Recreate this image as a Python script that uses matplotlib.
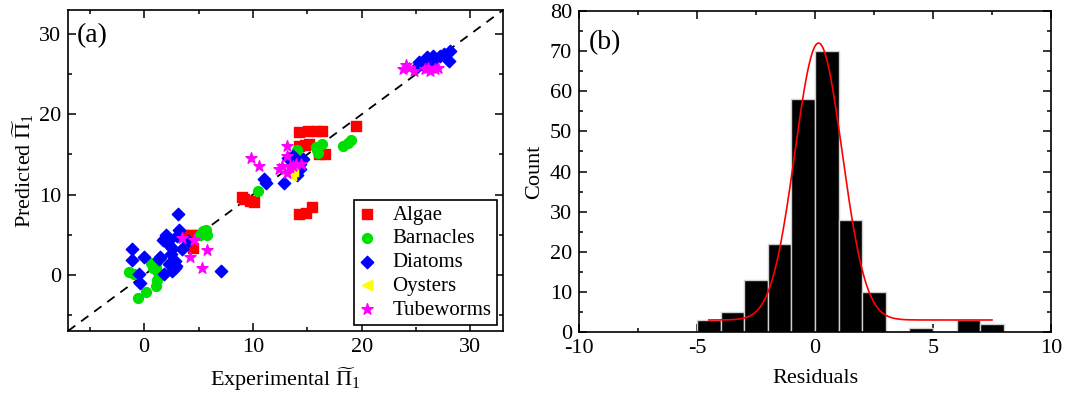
import numpy as np
import matplotlib
matplotlib.use('Agg')
import matplotlib.pyplot as plt
from matplotlib.ticker import MultipleLocator

plt.rcParams['font.family'] = ['Liberation Serif', 'DejaVu Serif']
plt.rcParams['mathtext.fontset'] = 'custom'
plt.rcParams['mathtext.rm'] = 'Liberation Serif'
plt.rcParams['mathtext.it'] = 'Liberation Serif:italic'
plt.rcParams['axes.unicode_minus'] = False

# (a) experimental vs predicted
algae_x = [14.2, 15.1, 15.8, 16.4, 19.5, 14.2, 14.8, 15.2, 16.6, 16.1, 9.0, 9.2, 9.7, 10.1,
           14.2, 14.9, 15.4, 3.8, 4.3, 4.5, 4.8]
algae_y = [17.8, 17.9, 17.9, 17.9, 18.5, 16.0, 16.2, 16.3, 15.1, 15.1, 9.7, 9.5, 9.2, 9.1,
           7.6, 7.7, 8.5, 4.9, 4.9, 3.4, 5.0]

barn_x = [18.3, 18.7, 19.0, 15.8, 16.4, 16.0, 15.9, 14.1, 10.5, 5.4, 5.7, 5.8, 5.1,
          0.6, 0.8, 1.2, 1.1, -1.4, -0.9, 1.2, 1.1, 0.15, -0.55]
barn_y = [16.0, 16.4, 16.8, 15.9, 16.3, 15.2, 15.6, 15.5, 10.5, 5.5, 5.6, 4.9, 4.9,
          1.5, 0.9, 0.5, 1.1, 0.4, 0.1, -0.7, -1.4, -2.1, -2.95]

diat_x = [-1.1, -1.1, 0.0, -0.5, -0.4, 1.8, 1.4, 1.5, 1.7, 2.0, 2.3, 2.6, 2.5, 2.8, 2.8,
          2.6, 2.3, 2.9, 3.1, 3.2, 3.5, 4.0, 7.1, 2.2, 1.9, 3.0,
          11.0, 11.2, 12.9, 13.2, 13.7, 14.0, 14.3, 14.6, 14.1, 14.3,
          25.0, 25.3, 25.6, 26.0, 26.3, 26.6, 26.7, 27.2, 27.6, 28.1, 28.0]
diat_y = [3.2, 1.8, 2.2, 0.1, -1.0, 0.1, 2.0, 2.2, 4.4, 4.9, 4.4, 3.4, 2.6, 1.7, 0.9,
          0.5, 1.3, 1.1, 7.6, 5.6, 3.2, 4.2, 0.5, 3.8, 4.6, 4.8,
          11.9, 11.4, 11.5, 14.5, 14.8, 14.2, 13.8, 14.4, 12.5, 13.2,
          25.8, 26.5, 26.2, 27.1, 26.6, 27.3, 26.9, 27.3, 27.5, 27.9, 26.6]

oyst_x = [13.5, 13.7]
oyst_y = [12.5, 13.0]

tube_x = [23.8, 24.1, 24.4, 24.8, 25.8, 26.1, 26.3, 26.7, 27.0,
          9.8, 10.6, 13.1, 13.1, 12.4, 12.7, 13.1, 13.4, 13.7, 14.0, 14.4,
          3.5, 4.6, 5.8, 4.2, 5.3]
tube_y = [25.6, 26.2, 25.8, 25.4, 25.6, 25.8, 25.4, 25.6, 25.8,
          14.6, 13.5, 16.1, 14.8, 13.2, 13.6, 12.7, 13.4, 13.6, 13.8, 13.8,
          4.6, 4.4, 3.1, 2.2, 0.9]

# (b) residual histogram, bin width 1
bin_left = [-5, -4, -3, -2, -1, 0, 1, 2, 3, 4, 5, 6, 7]
counts = [3, 5, 13, 22, 58, 70, 28, 10, 0, 1, 0, 3, 2]
# gaussian fit drawn in red (baseline, amplitude, centre, width)
fit_y0, fit_A, fit_xc, fit_w = 3.0, 69.0, 0.15, 1.0

fig = plt.figure(figsize=(10.73, 4.01), dpi=100)
ax1 = fig.add_axes([0.0634, 0.1746, 0.4054, 0.8004])
ax2 = fig.add_axes([0.5396, 0.172, 0.4399, 0.8006])

ax1.plot([-7, 33], [-7, 33], 'k--', lw=1.3, dashes=(5, 4), zorder=1)
ax1.scatter(algae_x, algae_y, marker='s', s=42, c='#ff0000', label='Algae', zorder=3)
ax1.scatter(barn_x, barn_y, marker='o', s=50, c='#00e000', label='Barnacles', zorder=3)
ax1.scatter(diat_x, diat_y, marker='D', s=40, c='#0000ff', label='Diatoms', zorder=3)
ax1.scatter(oyst_x, oyst_y, marker='<', s=55, c='#ffff00', label='Oysters', zorder=4)
ax1.scatter(tube_x, tube_y, marker='*', s=70, c='#ff00ff', label='Tubeworms', zorder=4)
ax1.set_xlim(-7, 33)
ax1.set_ylim(-7, 33)
ax1.xaxis.set_major_locator(MultipleLocator(10))
ax1.xaxis.set_minor_locator(MultipleLocator(5))
ax1.yaxis.set_major_locator(MultipleLocator(10))
ax1.yaxis.set_minor_locator(MultipleLocator(5))
ax1.set_xlabel(r'Experimental $\widetilde{\Pi}_\mathregular{1}$', fontsize=16, labelpad=6)
ax1.set_ylabel(r'Predicted $\widetilde{\Pi}_\mathregular{1}$', fontsize=16, labelpad=2)
ax1.text(0.02, 0.90, '(a)', transform=ax1.transAxes, fontsize=20)
leg = ax1.legend(loc='lower right', fontsize=15, frameon=True, fancybox=False,
                 edgecolor='black', handletextpad=0.9, borderaxespad=0.3,
                 labelspacing=0.2, handlelength=0.7, scatterpoints=1,
                 borderpad=0.25, framealpha=1)
leg.get_frame().set_linewidth(1.2)

ax2.bar(bin_left, counts, width=1, align='edge', color='black', edgecolor='#d0d0d0',
        linewidth=1.0, zorder=2)
xf = np.linspace(-4.5, 7.5, 300)
ax2.plot(xf, fit_y0 + fit_A * np.exp(-0.5 * ((xf - fit_xc) / fit_w) ** 2), color='#ff0000',
         lw=1.2, zorder=3)
ax2.set_xlim(-10, 10)
ax2.set_ylim(0, 80)
ax2.xaxis.set_major_locator(MultipleLocator(5))
ax2.xaxis.set_minor_locator(MultipleLocator(2.5))
ax2.yaxis.set_major_locator(MultipleLocator(10))
ax2.yaxis.set_minor_locator(MultipleLocator(5))
ax2.set_xlabel('Residuals', fontsize=16, labelpad=8)
ax2.set_ylabel('Count', fontsize=16, labelpad=4)
ax2.text(0.02, 0.88, '(b)', transform=ax2.transAxes, fontsize=20)

for ax in (ax1, ax2):
    ax.tick_params(which='both', direction='in', top=True, right=True, labelsize=16, width=1.1)
    ax.tick_params(which='major', length=6, pad=5)
    ax.tick_params(which='minor', length=3)
    for sp in ax.spines.values():
        sp.set_linewidth(1.2)

fig.savefig('out.png', dpi=100)
